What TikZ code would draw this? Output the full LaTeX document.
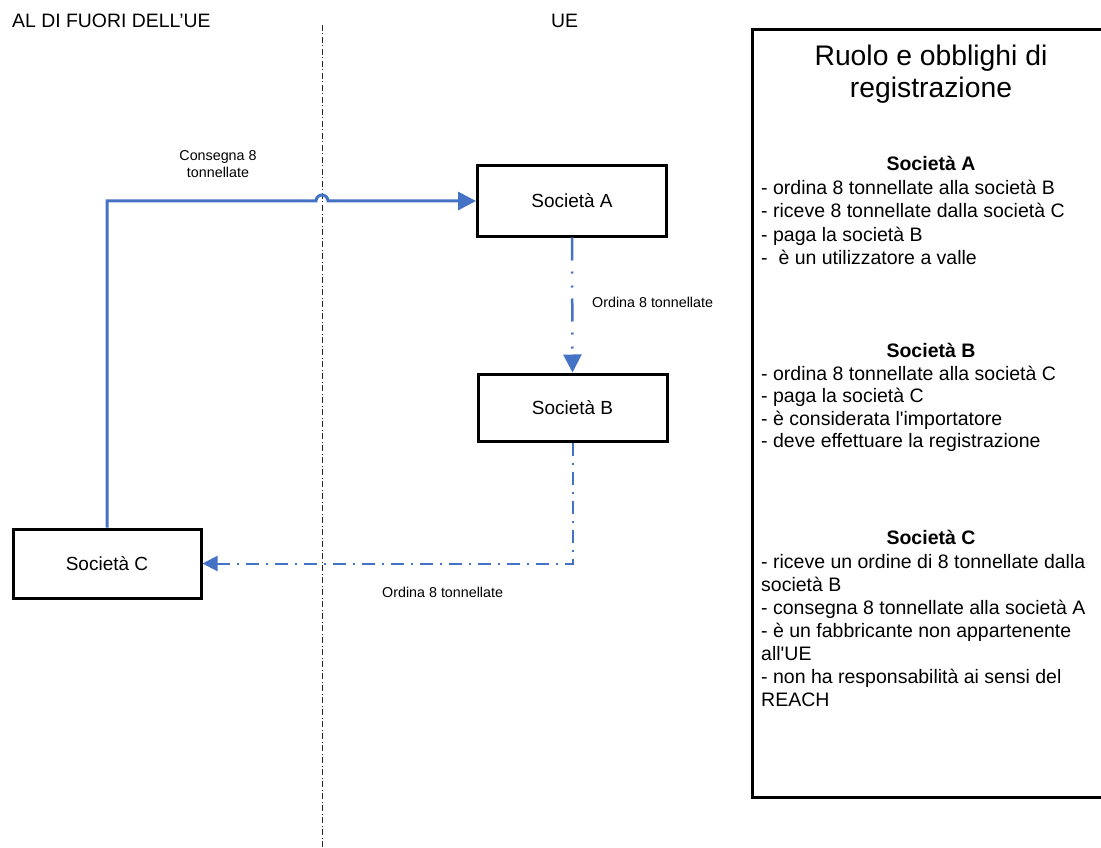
\documentclass[tikz,border=0pt]{standalone}
\usepackage{fontspec}
\setmainfont{Liberation Sans}
\usetikzlibrary{arrows.meta}
\definecolor{linkblue}{RGB}{68,114,196}
\begin{document}
\begin{tikzpicture}[x=1pt,y=1pt,
  company/.style={draw=black, line width=3pt, inner sep=0pt, font=\fontsize{19}{22}\selectfont},
  smalllabel/.style={font=\fontsize{14.3}{16.5}\selectfont, inner sep=0pt, align=center},
  zonelabel/.style={anchor=base west, inner sep=0pt, font=\fontsize{19.4}{22}\selectfont},
  listline/.style={anchor=base west, inner sep=0pt, font=\fontsize{19.5}{23}\selectfont},
  listhead/.style={anchor=base, inner sep=0pt, font=\fontsize{19.5}{23}\selectfont\bfseries},
  titletext/.style={anchor=north, inner sep=0pt, align=center, font=\fontsize{28.3}{32}\selectfont},
  solidlink/.style={draw=linkblue, line width=3pt, -{Triangle[length=18pt,width=18pt]}},
  orderdots/.style={draw=linkblue, line width=2.5pt, dash pattern=on 23pt off 11pt on 2pt off 12pt on 2pt off 11pt, -{Triangle[length=18pt,width=18pt]}},
  orderdash/.style={draw=linkblue, line width=2pt, dash pattern=on 13pt off 7pt on 2pt off 7pt, -{Triangle[length=15pt,width=15pt]}},
  divider/.style={draw=black!85, line width=1pt, dash pattern=on 6pt off 2.5pt on 1pt off 2.5pt},
  panel/.style={draw=black, line width=3pt}
]
\useasboundingbox (0,0) rectangle (1101,-848);

% zone labels and divider
\node[zonelabel] (outside) at (12,-28) {AL DI FUORI DELL’UE};
\node[zonelabel] (inside) at (551,-28) {UE};
\coordinate (divtop) at (322,-25);
\coordinate (divbot) at (322,-848);
\draw[divider] (divtop) -- (divbot);

% companies
\node[company, minimum width=189pt, minimum height=70pt] (A) at (572,-201) {Società A};
\node[company, minimum width=189pt, minimum height=67pt] (B) at (572.5,-407.5) {Società B};
\node[company, minimum width=188pt, minimum height=69pt] (C) at (107,-563.5) {Società C};

% connectors
\coordinate (jumpL) at (316,-201);
\draw[solidlink] (C.north) |- (jumpL) arc[start angle=180, end angle=0, radius=6] -- (A.west);
\draw[orderdots] (A.south) -- (B.north);
\draw[orderdash] (B.south) |- (C.east);

% connector labels
\node[smalllabel] (lblCons) at (218,-164) {Consegna 8\\tonnellate};
\node[smalllabel, anchor=base west] (lblAB) at (592,-307) {Ordina 8 tonnellate};
\node[smalllabel, anchor=base west] (lblBC) at (382,-597) {Ordina 8 tonnellate};

% right panel
\draw[panel] (1104,-30) -- (752,-30) -- (752,-797) -- (1104,-797);
\node[titletext] (title) at (931,-45) {Ruolo e obblighi di\\registrazione};

\node[listhead] (hA) at (931,-171) {Società A};
\node[listline] (a1) at (761,-195) {- ordina 8 tonnellate alla società B};
\node[listline] (a2) at (761,-218) {- riceve 8 tonnellate dalla società C};
\node[listline] (a3) at (761,-241) {- paga la società B};
\node[listline] (a4) at (761,-264) {- \ è un utilizzatore a valle};

\node[listhead] (hB) at (931,-357) {Società B};
\node[listline] (b1) at (761,-380) {- ordina 8 tonnellate alla società C};
\node[listline] (b2) at (761,-402) {- paga la società C};
\node[listline] (b3) at (761,-425) {- è considerata l\textquotesingle importatore};
\node[listline] (b4) at (761,-447) {- deve effettuare la registrazione};

\node[listhead] (hC) at (931,-544) {Società C};
\node[listline] (c1) at (761,-568) {- riceve un ordine di 8 tonnellate dalla};
\node[listline] (c2) at (761,-591) {società B};
\node[listline] (c3) at (761,-614) {- consegna 8 tonnellate alla società A};
\node[listline] (c4) at (761,-637) {- è un fabbricante non appartenente};
\node[listline] (c5) at (761,-660) {all\textquotesingle UE};
\node[listline] (c6) at (761,-683) {- non ha responsabilità ai sensi del};
\node[listline] (c7) at (761,-706) {REACH};
\end{tikzpicture}
\end{document}
